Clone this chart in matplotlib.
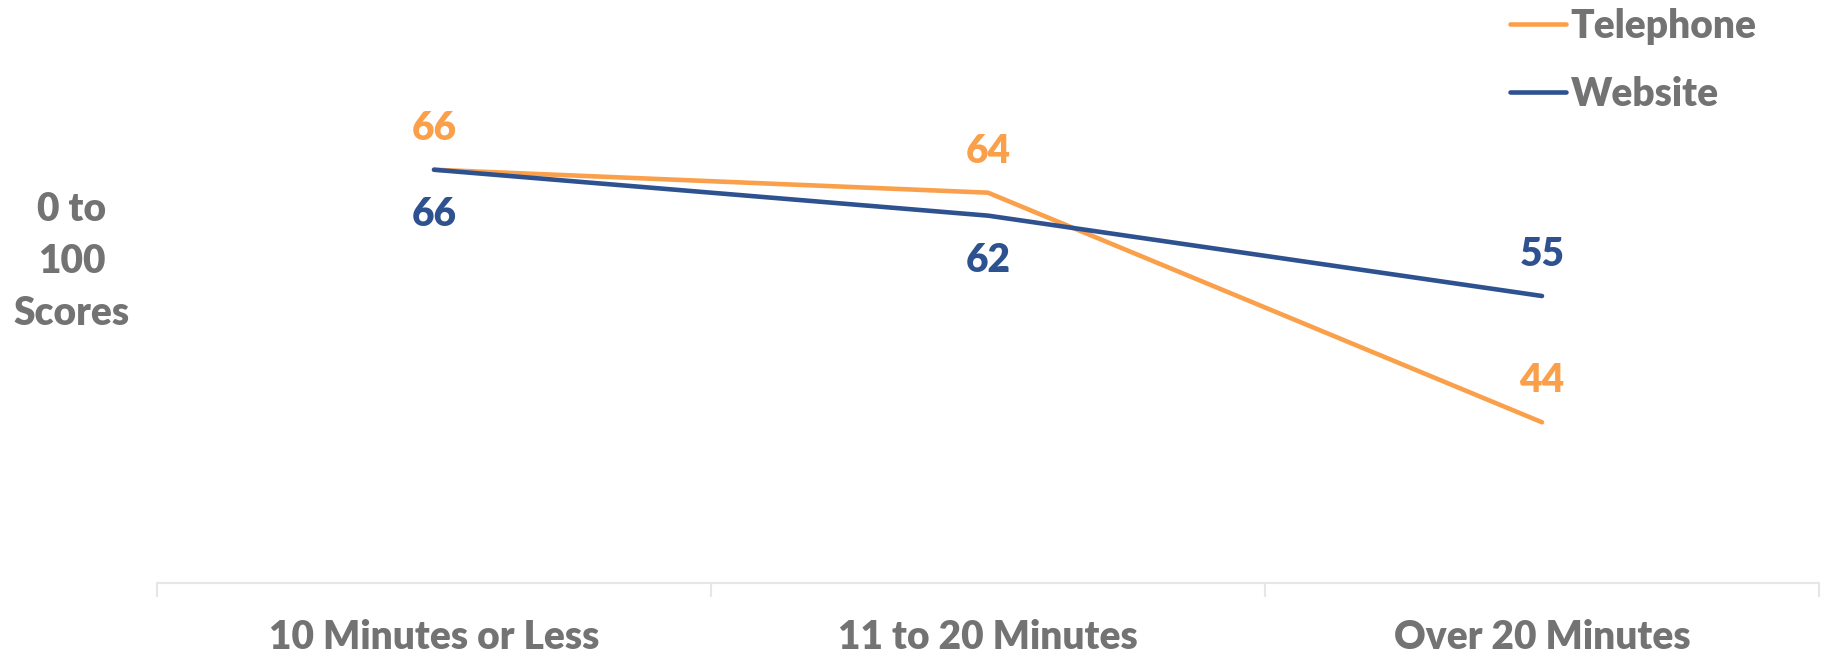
import matplotlib
matplotlib.use("Agg")
import matplotlib.pyplot as plt
from matplotlib.ticker import FixedLocator

categories = ["10 Minutes or Less", "11 to 20 Minutes", "Over 20 Minutes"]
telephone = [66, 64, 44]
website = [66, 62, 55]
tele_label_pos = ["above", "above", "above"]
web_label_pos = ["below", "below", "above"]

ORANGE = "#FBA04A"
BLUE = "#2E5290"
GRAY = "#737373"
AXISGRAY = "#E6E6E6"
FONT = ["Lato", "DejaVu Sans"]
FS = 28
WEIGHT = "heavy"

plt.rcParams['font.family'] = FONT
plt.rcParams['font.weight'] = WEIGHT

fig = plt.figure(figsize=(18.25, 6.56), dpi=100)
ax = fig.add_axes([157/1825, 1-583/656, (1819-157)/1825, (583-9)/656])

x = list(range(len(categories)))
l1, = ax.plot(x, telephone, color=ORANGE, lw=3.3, solid_capstyle='round', label="Telephone", zorder=3)
l2, = ax.plot(x, website, color=BLUE, lw=3.3, solid_capstyle='round', label="Website", zorder=4)

ax.set_xlim(-0.5, len(categories) - 0.5)
ax.set_ylim(30, 80)

def label(vals, pos, color):
    for xi, v, p in zip(x, vals, pos):
        dy = 30 if p == "above" else -32
        ax.annotate(f"{v}", (xi, v), xytext=(0, dy), textcoords="offset points",
                    ha="center", va="center", color=color, fontsize=FS, fontweight=WEIGHT)

label(telephone, tele_label_pos, ORANGE)
label(website, web_label_pos, BLUE)

for s in ["top", "right", "left"]:
    ax.spines[s].set_visible(False)
ax.spines["bottom"].set_color(AXISGRAY)
ax.spines["bottom"].set_linewidth(1.5)
ax.set_yticks([])
ax.set_xticks(x)
ax.set_xticklabels(categories, fontsize=FS, fontweight=WEIGHT, color=GRAY)
ax.tick_params(axis="x", which="major", length=0, pad=26)
ax.xaxis.set_minor_locator(FixedLocator([i - 0.5 for i in range(len(categories) + 1)]))
ax.tick_params(axis="x", which="minor", length=10, width=1.5, color=AXISGRAY)

fig.text(72/1825, 1-261/656, "0 to\n100\nScores", ha="center", va="center",
         fontsize=FS, fontweight=WEIGHT, color=GRAY, linespacing=1.5)

leg = fig.legend(handles=[l1, l2], loc="upper left", bbox_to_anchor=(1494/1825, 1.012),
                 frameon=False, fontsize=FS, handlelength=1.45, handletextpad=0.12,
                 labelspacing=0.8, borderaxespad=0)
for t in leg.get_texts():
    t.set_color(GRAY)
    t.set_fontweight(WEIGHT)

fig.savefig("out.png", dpi=100)
